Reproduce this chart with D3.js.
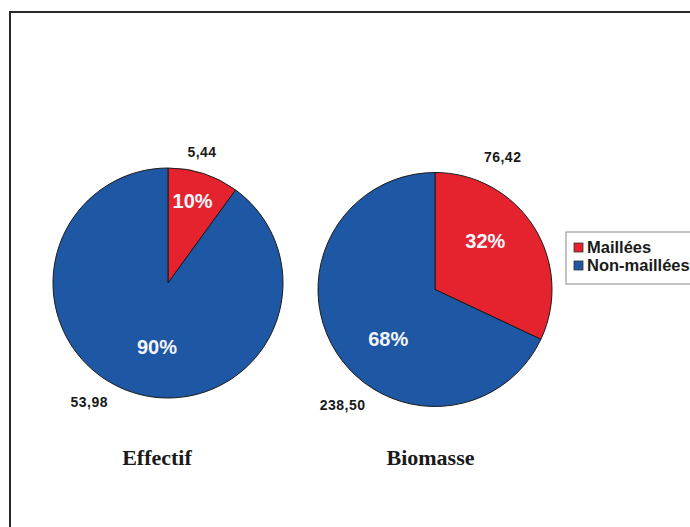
<!DOCTYPE html>
<html>
<head>
<meta charset="utf-8">
<script src="https://cdn.jsdelivr.net/npm/d3@7"></script>
<style>
  html, body { margin: 0; padding: 0; background: #fff; }
  svg { display: block; }
</style>
</head>
<body>
<svg id="chart" width="690" height="527"></svg>
<script>
// Categories and per-chart values
const categories = ["Maillées", "Non-maillées"];
const chartTitles = ["Effectif", "Biomasse"];
const effectifPct = [10, 90];
const biomassePct = [32, 68];
const effectifValues = ["5,44", "53,98"];
const biomasseValues = ["76,42", "238,50"];

const colors = d3.scaleOrdinal().domain(categories).range(["#e5232f", "#1e57a4"]);

const svg = d3.select("#chart");

// Frame (left and top edges)
svg.append("path")
  .attr("d", "M10,527 L10,12 L690,12")
  .attr("fill", "none")
  .attr("stroke", "#2a2a2a")
  .attr("stroke-width", 2);

// Layout for each pie: centre, radius, and label placement (angle in degrees, radius)
const pies = [
  { title: chartTitles[0], pct: effectifPct, values: effectifValues,
    cx: 168, cy: 283, r: 115, titleX: 157,
    pctPos: [[16.6, 86], [189.8, 65]],
    valPos: [[14.6, 135], [213.4, 143]] },
  { title: chartTitles[1], pct: biomassePct, values: biomasseValues,
    cx: 435, cy: 289.5, r: 117, titleX: 430.5,
    pctPos: [[45.9, 70], [223.5, 68]],
    valPos: [[27, 149], [218.6, 148]] }
];

const pie = d3.pie().sort(null).value(d => d.pct);
const polar = (deg, rad) => {
  const a = deg * Math.PI / 180;
  return [rad * Math.sin(a), -rad * Math.cos(a)];
};

pies.forEach(p => {
  const rows = categories.map((c, i) => ({ cat: c, pct: p.pct[i], value: p.values[i] }));
  const g = svg.append("g").attr("transform", `translate(${p.cx},${p.cy})`);
  const arc = d3.arc().innerRadius(0).outerRadius(p.r);

  g.selectAll("path.slice")
    .data(pie(rows))
    .join("path")
    .attr("class", "slice")
    .attr("d", arc)
    .attr("fill", d => colors(d.data.cat))
    .attr("stroke", "#1a1a1a")
    .attr("stroke-width", 1);

  // Percentage labels inside slices
  g.selectAll("text.pct")
    .data(rows)
    .join("text")
    .attr("class", "pct")
    .attr("transform", (d, i) => `translate(${polar(p.pctPos[i][0], p.pctPos[i][1])})`)
    .attr("text-anchor", "middle")
    .attr("dy", "0.36em")
    .attr("font-family", "'Liberation Sans', Arial, sans-serif")
    .attr("font-weight", "bold")
    .attr("font-size", 20)
    .attr("fill", "#f4f6fb")
    .text(d => d.pct + "%");

  // Value labels outside slices
  g.selectAll("text.val")
    .data(rows)
    .join("text")
    .attr("class", "val")
    .attr("transform", (d, i) => `translate(${polar(p.valPos[i][0], p.valPos[i][1])})`)
    .attr("text-anchor", "middle")
    .attr("dy", "0.36em")
    .attr("font-family", "'Liberation Sans', Arial, sans-serif")
    .attr("font-weight", "bold")
    .attr("font-size", 14)
    .attr("letter-spacing", 0.5)
    .attr("fill", "#1a1a1a")
    .text(d => d.value);

  // Chart title below pie
  svg.append("text")
    .attr("x", p.titleX)
    .attr("y", 465)
    .attr("text-anchor", "middle")
    .attr("font-family", "'Liberation Serif', 'Times New Roman', serif")
    .attr("font-weight", "bold")
    .attr("font-size", 22)
    .attr("fill", "#1a1a1a")
    .text(p.title);
});

// Legend
const legend = svg.append("g").attr("transform", "translate(566,232)");
legend.append("rect")
  .attr("x", 0).attr("y", 0)
  .attr("width", 140).attr("height", 52)
  .attr("fill", "#fff")
  .attr("stroke", "#8a8a8a")
  .attr("stroke-width", 1);

const items = legend.selectAll("g.item")
  .data(categories)
  .join("g")
  .attr("class", "item")
  .attr("transform", (d, i) => `translate(0,${11 + i * 18})`);

items.append("rect")
  .attr("x", 8).attr("y", 0)
  .attr("width", 9).attr("height", 9)
  .attr("fill", d => colors(d))
  .attr("stroke", "#333")
  .attr("stroke-width", 0.8);

items.append("text")
  .attr("x", 21).attr("y", 9.5)
  .attr("font-family", "'Liberation Sans', Arial, sans-serif")
  .attr("font-weight", "bold")
  .attr("font-size", 16.5)
  .attr("fill", "#1a1a1a")
  .text(d => d);
</script>
</body>
</html>
